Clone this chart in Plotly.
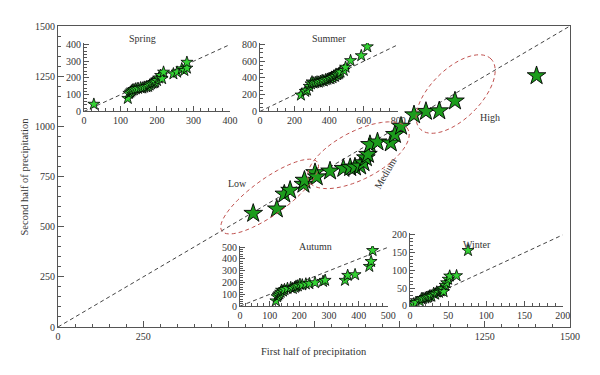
import numpy as np
import plotly.graph_objects as go

# ---------------- data ----------------
main_x = [572, 641, 663, 680, 719, 722, 753, 758, 797, 836, 856, 870, 885, 895, 902, 908,
          914, 936, 975, 987, 1005, 1043, 1078, 1117, 1163, 1402]
main_y = [566, 588, 662, 681, 711, 731, 769, 748, 777, 790, 794, 797, 802, 818, 843, 860,
          909, 922, 917, 959, 1000, 1057, 1074, 1077, 1126, 1252]

spring_x = [27, 120, 123, 127, 130, 133, 137, 142, 148, 155, 160, 165, 171, 176, 180, 184,
            188, 192, 195, 200, 205, 210, 214, 218, 245, 255, 268, 275, 282, 282]
spring_y = [43, 78, 108, 115, 122, 128, 130, 135, 138, 141, 140, 145, 147, 150, 158, 165,
            170, 172, 176, 185, 200, 215, 196, 235, 225, 235, 255, 245, 259, 294]

summer_x = [237, 262, 272, 285, 295, 301, 310, 320, 330, 340, 350, 360, 369, 380, 390, 400,
            408, 415, 420, 427, 435, 440, 447, 455, 460, 466, 485, 495, 524, 586, 621]
summer_y = [196, 240, 255, 300, 330, 353, 340, 345, 353, 350, 360, 370, 365, 380, 385, 395,
            392, 410, 405, 424, 420, 445, 439, 450, 460, 471, 490, 529, 608, 667, 773]

autumn_x = [121, 125, 129, 133, 137, 140, 145, 150, 160, 171, 178, 185, 189, 195, 202, 210,
            222, 234, 253, 280, 287, 354, 363, 388, 436, 442, 447]
autumn_y = [45, 80, 93, 105, 118, 135, 128, 140, 150, 157, 150, 160, 169, 172, 185, 180,
            188, 191, 199, 210, 219, 219, 261, 267, 337, 379, 472]

winter_x = [2, 5, 8, 13, 15, 17, 20, 22, 24, 26, 28, 31, 33, 35, 38, 40, 41, 43, 44, 46,
            48, 50, 52, 61, 76]
winter_y = [4, 6, 9, 13, 20, 21, 22, 24, 25, 28, 27, 35, 33, 39, 38, 42, 44, 48, 40, 58,
            65, 75, 84, 85, 156]

main_xticks = [0, 250, 500, 750, 1000, 1250, 1500]
main_xticklabels = ["0", "250", "", "", "", "1250", "1500"]
main_yticks = [0, 250, 500, 750, 1000, 1250, 1500]

# ---------------- style ----------------
FONT = "Liberation Serif"
TXT = "#333333"
AX = "#555555"
MAIN_GREEN = "#1c9c1c"
INSET_GREEN = "#33d133"
DASH_GREY = "#444444"
ELL_RED = "#c0504d"

# page has an 8px body margin, so the figure is drawn 8px in from the top-left
W, H = 592, 367
ML, MR, MT, MB = 50, 30, 16, 48
PW, PH = W - ML - MR, H - MT - MB
MAIN_MAX = 1500

fig = go.Figure()

fig.add_trace(go.Scatter(x=[0, MAIN_MAX], y=[0, MAIN_MAX], mode="lines",
                         line=dict(color=DASH_GREY, width=1, dash="4px,3px"),
                         hoverinfo="skip", showlegend=False, xaxis="x", yaxis="y"))
fig.add_trace(go.Scatter(x=main_x, y=main_y, mode="markers",
                         marker=dict(symbol="star", size=14, color=MAIN_GREEN,
                                     line=dict(color="black", width=0.9)),
                         showlegend=False, xaxis="x", yaxis="y"))

insets = [
    ("2", spring_x, spring_y, 400, 410, [0.0508, 0.3359], [0.7162, 0.9439], 100, 20, 100, 20),
    ("3", summer_x, summer_y, 800, 820, [0.3945, 0.6646], [0.7162, 0.9439], 200, 50, 200, 50),
    ("4", autumn_x, autumn_y, 500, 510, [0.3555, 0.6451], [0.0693, 0.2690], 100, 20, 100, 20),
    ("5", winter_x, winter_y, 200, 205, [0.6875, 0.9857], [0.0703, 0.3119], 50, 10, 50, 10),
]

axis_font = dict(family=FONT, size=10, color=TXT)
layout_axes = {}
for name, xs, ys, xmax, ymax, xd, yd, xdt, xmn, ydt, ymn in insets:
    diag = min(xmax, ymax)
    fig.add_trace(go.Scatter(x=[0, diag], y=[0, diag], mode="lines",
                             line=dict(color=DASH_GREY, width=1, dash="4px,3px"),
                             hoverinfo="skip", showlegend=False,
                             xaxis="x" + name, yaxis="y" + name))
    fig.add_trace(go.Scatter(x=xs, y=ys, mode="markers",
                             marker=dict(symbol="star", size=9, color=INSET_GREEN,
                                         line=dict(color="black", width=0.8)),
                             showlegend=False, xaxis="x" + name, yaxis="y" + name))
    layout_axes["xaxis" + name] = dict(
        domain=xd, anchor="y" + name, range=[0, xmax], dtick=xdt, tick0=0,
        showline=True, linecolor=AX, linewidth=1, ticks="inside", ticklen=5,
        tickcolor=AX, showgrid=False, zeroline=False, tickfont=axis_font,
        minor=dict(dtick=xmn, ticks="inside", ticklen=3, tickcolor=AX, showgrid=False))
    layout_axes["yaxis" + name] = dict(
        domain=yd, anchor="x" + name, range=[0, ymax], dtick=ydt, tick0=0,
        showline=True, linecolor=AX, linewidth=1, ticks="inside", ticklen=5,
        tickcolor=AX, showgrid=False, zeroline=False, tickfont=axis_font,
        minor=dict(dtick=ymn, ticks="inside", ticklen=3, tickcolor=AX, showgrid=False))

sx = PW / MAIN_MAX
sy = PH / MAIN_MAX


def ellipse_path(cx, cy, a_px, b_px, ang_deg, n=80):
    t = np.linspace(0, 2 * np.pi, n)
    th = np.deg2rad(ang_deg)
    u = a_px * np.cos(t)
    v = b_px * np.sin(t)
    dx = u * np.cos(th) - v * np.sin(th)
    dy = u * np.sin(th) + v * np.cos(th)
    xs = cx + dx / sx
    ys = cy + dy / sy
    pts = " L ".join(f"{x:.2f},{y:.2f}" for x, y in zip(xs, ys))
    return "M " + pts + " Z"


ellipses = [
    (620, 650, 59, 18, 36),     # Low
    (880, 856, 56, 24, 27.7),   # Medium
    (1165, 1161, 50, 25, 45),   # High
]
shapes = []
for cx, cy, a, b, ang in ellipses:
    shapes.append(dict(type="path", path=ellipse_path(cx, cy, a, b, ang),
                       xref="x", yref="y",
                       line=dict(color=ELL_RED, width=1, dash="4px,3px")))


def note(text, x, y, ref="paper", angle=0, size=10):
    return dict(text=text, x=x, y=y, xref="x" if ref == "data" else "paper",
                yref="y" if ref == "data" else "paper", showarrow=False,
                xanchor="center", yanchor="middle", textangle=angle,
                font=dict(family=FONT, size=size, color=TXT))


annotations = [
    note("Low", 527, 713, "data"),
    note("High", 1266, 1045, "data"),
    note("Medium", 958, 767, "data", angle=-60),
    note("Spring", 0.166, 0.957),
    note("Summer", 0.531, 0.960),
    note("Autumn", 0.502, 0.268),
    note("Winter", 0.818, 0.273),
    note("First half of precipitation", 0.5, -0.083, size=10.5),
    note("Second half of precipitation", -0.0645, 0.5, angle=-90, size=10.5),
]

fig.update_layout(
    width=W, height=H,
    margin=dict(l=ML, r=MR, t=MT, b=MB),
    paper_bgcolor="white", plot_bgcolor="white",
    showlegend=False,
    xaxis=dict(domain=[0, 1], anchor="y", range=[0, MAIN_MAX], tickvals=main_xticks,
               ticktext=main_xticklabels, showline=True, mirror=True, linecolor=AX,
               linewidth=1, ticks="inside", ticklen=6, tickcolor=AX, showgrid=False,
               zeroline=False, tickfont=axis_font,
               minor=dict(dtick=50, ticks="inside", ticklen=3, tickcolor=AX, showgrid=False)),
    yaxis=dict(domain=[0, 1], anchor="x", range=[0, MAIN_MAX], tickvals=main_yticks,
               showline=True, mirror=True, linecolor=AX, linewidth=1, ticks="inside",
               ticklen=6, tickcolor=AX, showgrid=False, zeroline=False, tickfont=axis_font,
               minor=dict(dtick=50, ticks="inside", ticklen=3, tickcolor=AX, showgrid=False)),
    shapes=shapes,
    annotations=annotations,
    **layout_axes,
)

fig.write_html("out.html")
